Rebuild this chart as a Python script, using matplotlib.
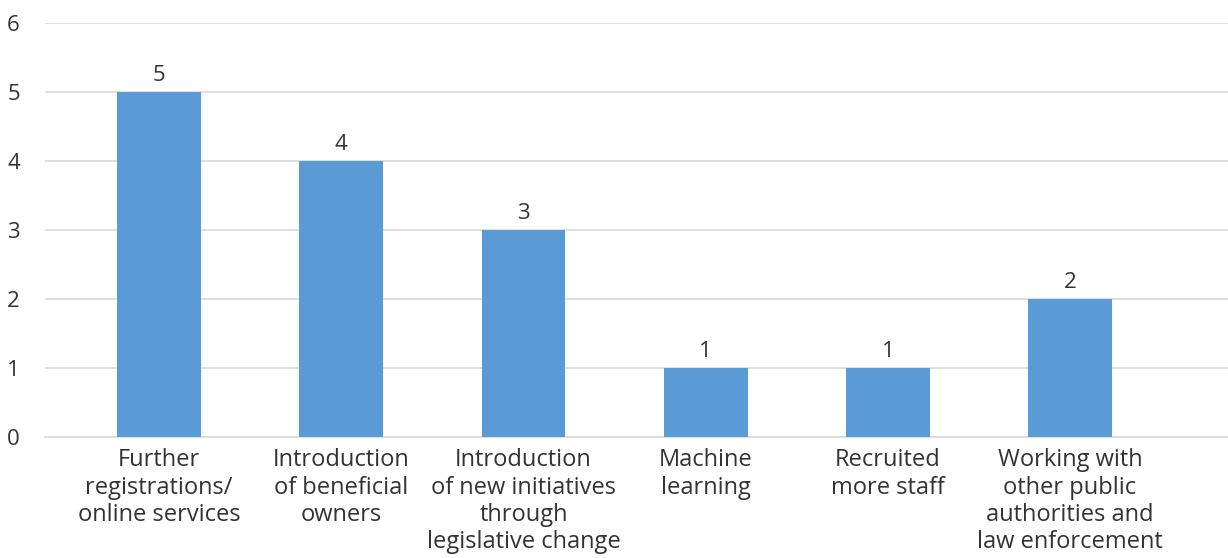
import matplotlib
matplotlib.use("Agg")
import matplotlib.pyplot as plt

categories = [
    "Further\nregistrations/\nonline services",
    "Introduction\nof beneficial\nowners",
    "Introduction\nof new initiatives\nthrough\nlegislative change",
    "Machine\nlearning",
    "Recruited\nmore staff",
    "Working with\nother public\nauthorities and\nlaw enforcement",
]
values = [5, 4, 3, 1, 1, 2]
yticks = [0, 1, 2, 3, 4, 5, 6]

plt.rcParams['font.family'] = ['Open Sans', 'DejaVu Sans']
text_color = '#333333'
fs = 16
fs_cat = 17

fig = plt.figure(figsize=(12.28, 5.58), dpi=100)
ax = fig.add_axes([0.0366, 0.2168, 0.9634, 0.742])

x = list(range(len(values)))
bars = ax.bar(x, values, width=0.46, color='#5B9BD5', zorder=3)

for xi, v in zip(x, values):
    ax.annotate(str(v), (xi, v), xytext=(0, 4), textcoords='offset points',
                ha='center', va='bottom', fontsize=fs, color=text_color)

ax.set_ylim(0, 6)
ax.set_xlim(-0.626, 5.867)
ax.set_yticks(yticks)
ax.set_yticklabels([str(t) for t in yticks], fontsize=fs, color=text_color)
ax.set_xticks(x)
ax.set_xticklabels(categories, fontsize=fs_cat, color=text_color, linespacing=1.19, va='top')
ax.tick_params(axis='both', length=0)
ax.tick_params(axis='y', pad=18)
ax.tick_params(axis='x', pad=8)
ax.grid(axis='y', color='#d9d9d9', linewidth=1.2, zorder=0)
for s in ['top', 'right', 'left']:
    ax.spines[s].set_visible(False)
ax.spines['bottom'].set_color('#d9d9d9')
ax.spines['bottom'].set_linewidth(1.2)

fig.savefig('out.png', dpi=100)
